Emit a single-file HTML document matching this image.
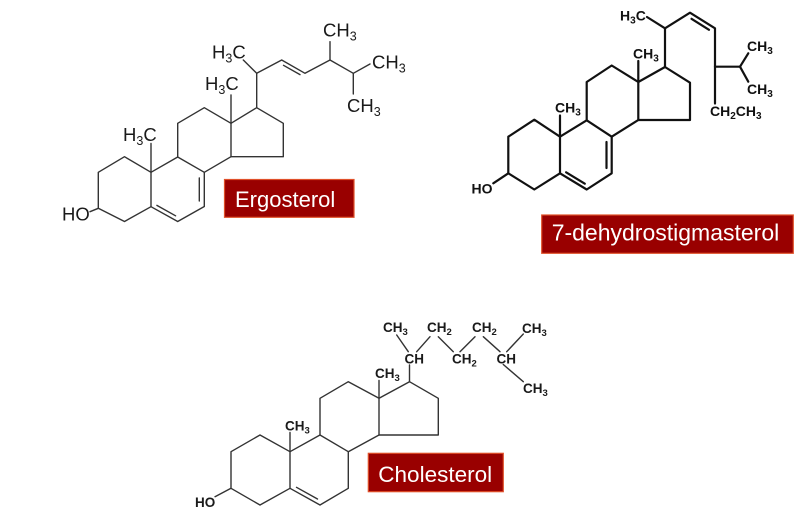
<!DOCTYPE html>
<html>
<head>
<meta charset="utf-8">
<style>
html,body{margin:0;padding:0;background:#fff;}
svg{display:block;}
.e{font-family:"Liberation Sans",Arial,sans-serif;font-size:18.5px;fill:#1a1a1a;}
.d{font-family:"Liberation Sans",Arial,sans-serif;font-size:14px;font-weight:bold;fill:#111;}
.c{font-family:"Liberation Sans",Arial,sans-serif;font-size:13.5px;font-weight:bold;fill:#1a1a1a;}
.lab{font-family:"Liberation Sans",Arial,sans-serif;fill:#fff;}
</style>
</head>
<body>
<svg width="800" height="512" viewBox="0 0 800 512" xmlns="http://www.w3.org/2000/svg">
<rect width="800" height="512" fill="#fff"/>

<!-- ============ ERGOSTEROL ============ -->
<g stroke="#333" stroke-width="1.4" fill="none" stroke-linecap="round" stroke-linejoin="round">
  <!-- ring A -->
  <polyline points="98.3,208.3 98.3,172.3 124.5,156.7 151,172.3 151,206.7 124.5,221.5 98.3,208.3"/>
  <line x1="90" y1="211.7" x2="98.3" y2="208.3"/>
  <!-- ring B -->
  <polyline points="151,206.7 177.7,221.5 204.3,206.5 204.3,172.3 177.7,157 151,172.3"/>
  <line x1="156.9" y1="205.4" x2="175.6" y2="215.8"/>
  <line x1="199.3" y1="178" x2="199.3" y2="201"/>
  <!-- ring C -->
  <polyline points="177.7,157 177.7,123.3 204.3,107.7 231,123.3 231,156.7 204.3,172.3"/>
  <!-- ring D -->
  <polyline points="231,123.3 256.7,107.7 283.3,123.3 283.3,156.7 231,156.7"/>
  <!-- methyls -->
  <line x1="231" y1="123.3" x2="231" y2="95"/>
  <line x1="151" y1="172.3" x2="151" y2="143.5"/>
  <!-- side chain -->
  <line x1="256.7" y1="107.7" x2="256.7" y2="73.3"/>
  <line x1="256.7" y1="73.3" x2="243.3" y2="60"/>
  <polyline points="256.7,73.3 281.7,60 305,73.3 330,60 353.3,73.3 370,64"/>
  <line x1="283.5" y1="65.3" x2="300" y2="74.6"/>
  <line x1="330" y1="60" x2="330" y2="41.7"/>
  <line x1="353.3" y1="73.3" x2="353.3" y2="94"/>
</g>
<text class="e" x="62" y="220.5">HO</text>
<text class="e" x="123" y="141">H<tspan font-size="12.5" dy="4">3</tspan><tspan dy="-4">C</tspan></text>
<text class="e" x="205" y="90">H<tspan font-size="12.5" dy="4">3</tspan><tspan dy="-4">C</tspan></text>
<text class="e" x="212" y="58.5">H<tspan font-size="12.5" dy="4">3</tspan><tspan dy="-4">C</tspan></text>
<text class="e" x="323" y="36.5">CH<tspan font-size="12.5" dy="4">3</tspan></text>
<text class="e" x="372" y="68.5">CH<tspan font-size="12.5" dy="4">3</tspan></text>
<text class="e" x="347" y="111.8">CH<tspan font-size="12.5" dy="4">3</tspan></text>

<rect x="224.5" y="179.5" width="129.5" height="37.8" fill="#990000" stroke="#e0502a" stroke-width="1.2"/>
<text class="lab" x="235" y="207" font-size="22">Ergosterol</text>

<!-- ============ 7-DEHYDROSTIGMASTEROL ============ -->
<g stroke="#111" stroke-width="2.2" fill="none" stroke-linecap="round" stroke-linejoin="round">
  <polyline points="508.3,173.3 508.3,136.7 534.3,119.7 560,136.7 560,173.3 534.3,189.5 508.3,173.3"/>
  <line x1="493.3" y1="183.3" x2="508.3" y2="173.3"/>
  <polyline points="560,173.3 586.7,189.5 611.7,173.3 611.7,136.7 586.7,120.3 560,136.7"/>
  <line x1="566.1" y1="172.3" x2="584.8" y2="183.7"/>
  <line x1="606.5" y1="142" x2="606.5" y2="168"/>
  <polyline points="586.7,120.3 586.7,82 611.7,65.5 638.3,82 638.3,120 611.7,136.7"/>
  <polyline points="638.3,82 665,67 690,82.7 690,120 638.3,120"/>
  <line x1="560" y1="136.7" x2="560" y2="115.5"/>
  <line x1="638.3" y1="82" x2="638.3" y2="61"/>
  <line x1="665" y1="67" x2="665" y2="28.3"/>
  <line x1="665" y1="28.3" x2="647" y2="17"/>
  <polyline points="665,28.3 690,12.7 715,28.3 715,103.5"/>
  <line x1="691.5" y1="18.8" x2="709" y2="29.8"/>
  <line x1="715" y1="66.7" x2="740" y2="66.7"/>
  <line x1="740" y1="66.7" x2="748.3" y2="53.3"/>
  <line x1="740" y1="66.7" x2="748.3" y2="81.7"/>
</g>
<text class="d" x="471.5" y="193.3">HO</text>
<text class="d" x="555" y="112.5">CH<tspan font-size="10" dy="3">3</tspan></text>
<text class="d" x="633" y="58.5">CH<tspan font-size="10" dy="3">3</tspan></text>
<text class="d" x="620" y="20.5">H<tspan font-size="10" dy="3">3</tspan><tspan dy="-3">C</tspan></text>
<text class="d" x="747" y="51">CH<tspan font-size="10" dy="3">3</tspan></text>
<text class="d" x="747" y="94">CH<tspan font-size="10" dy="3">3</tspan></text>
<text class="d" x="710" y="116">CH<tspan font-size="10" dy="3">2</tspan><tspan dy="-3">CH</tspan><tspan font-size="10" dy="3">3</tspan></text>

<rect x="541.7" y="215" width="251.6" height="38.3" fill="#990000" stroke="#e0502a" stroke-width="1.2"/>
<text class="lab" x="551.7" y="240.5" font-size="23">7-dehydrostigmasterol</text>

<!-- ============ CHOLESTEROL ============ -->
<g stroke="#333" stroke-width="1.4" fill="none" stroke-linecap="round" stroke-linejoin="round">
  <polyline points="231,488.3 231,451.7 260,435 290,451.7 290,488.3 260,505 231,488.3"/>
  <line x1="215" y1="496.7" x2="231" y2="488.3"/>
  <polyline points="290,488.3 320,505 348.3,488.3 348.3,451.7 320,435 290,451.7"/>
  <line x1="296.5" y1="487.3" x2="317.5" y2="499"/>
  <polyline points="320,435 320,398.3 348.3,381.7 379,398.3 379,435 348.3,451.7"/>
  <polyline points="379,398.3 409.5,381.7 438.3,398.3 438.3,435 379,435"/>
  <line x1="290" y1="451.7" x2="290" y2="432.5"/>
  <line x1="379" y1="398.3" x2="379" y2="380.5"/>
  <line x1="409.5" y1="381.7" x2="409.5" y2="365"/>
  <line x1="396.7" y1="335" x2="408.3" y2="351.7"/>
  <line x1="416.7" y1="351.7" x2="430" y2="336.7"/>
  <line x1="438.3" y1="336.7" x2="453.3" y2="351.7"/>
  <line x1="460" y1="351.7" x2="475" y2="336.7"/>
  <line x1="483.3" y1="336.7" x2="500" y2="351.7"/>
  <line x1="506.7" y1="351.7" x2="523.3" y2="334"/>
  <line x1="503.3" y1="364.5" x2="523.3" y2="381.7"/>
</g>
<text class="c" x="195" y="507">HO</text>
<text class="c" x="285" y="430.5">CH<tspan font-size="9.5" dy="3">3</tspan></text>
<text class="c" x="375" y="378">CH<tspan font-size="9.5" dy="3">3</tspan></text>
<text class="c" x="404.5" y="363.3">CH</text>
<text class="c" x="383" y="332">CH<tspan font-size="9.5" dy="3">3</tspan></text>
<text class="c" x="427" y="332">CH<tspan font-size="9.5" dy="3">2</tspan></text>
<text class="c" x="472" y="332">CH<tspan font-size="9.5" dy="3">2</tspan></text>
<text class="c" x="522" y="333">CH<tspan font-size="9.5" dy="3">3</tspan></text>
<text class="c" x="452" y="363.5">CH<tspan font-size="9.5" dy="3">2</tspan></text>
<text class="c" x="496.5" y="363.3">CH</text>
<text class="c" x="523" y="393">CH<tspan font-size="9.5" dy="3">3</tspan></text>

<rect x="368.3" y="453.3" width="135" height="38.4" fill="#990000" stroke="#e0502a" stroke-width="1.2"/>
<text class="lab" x="378.3" y="482" font-size="22.5">Cholesterol</text>
</svg>
</body>
</html>
